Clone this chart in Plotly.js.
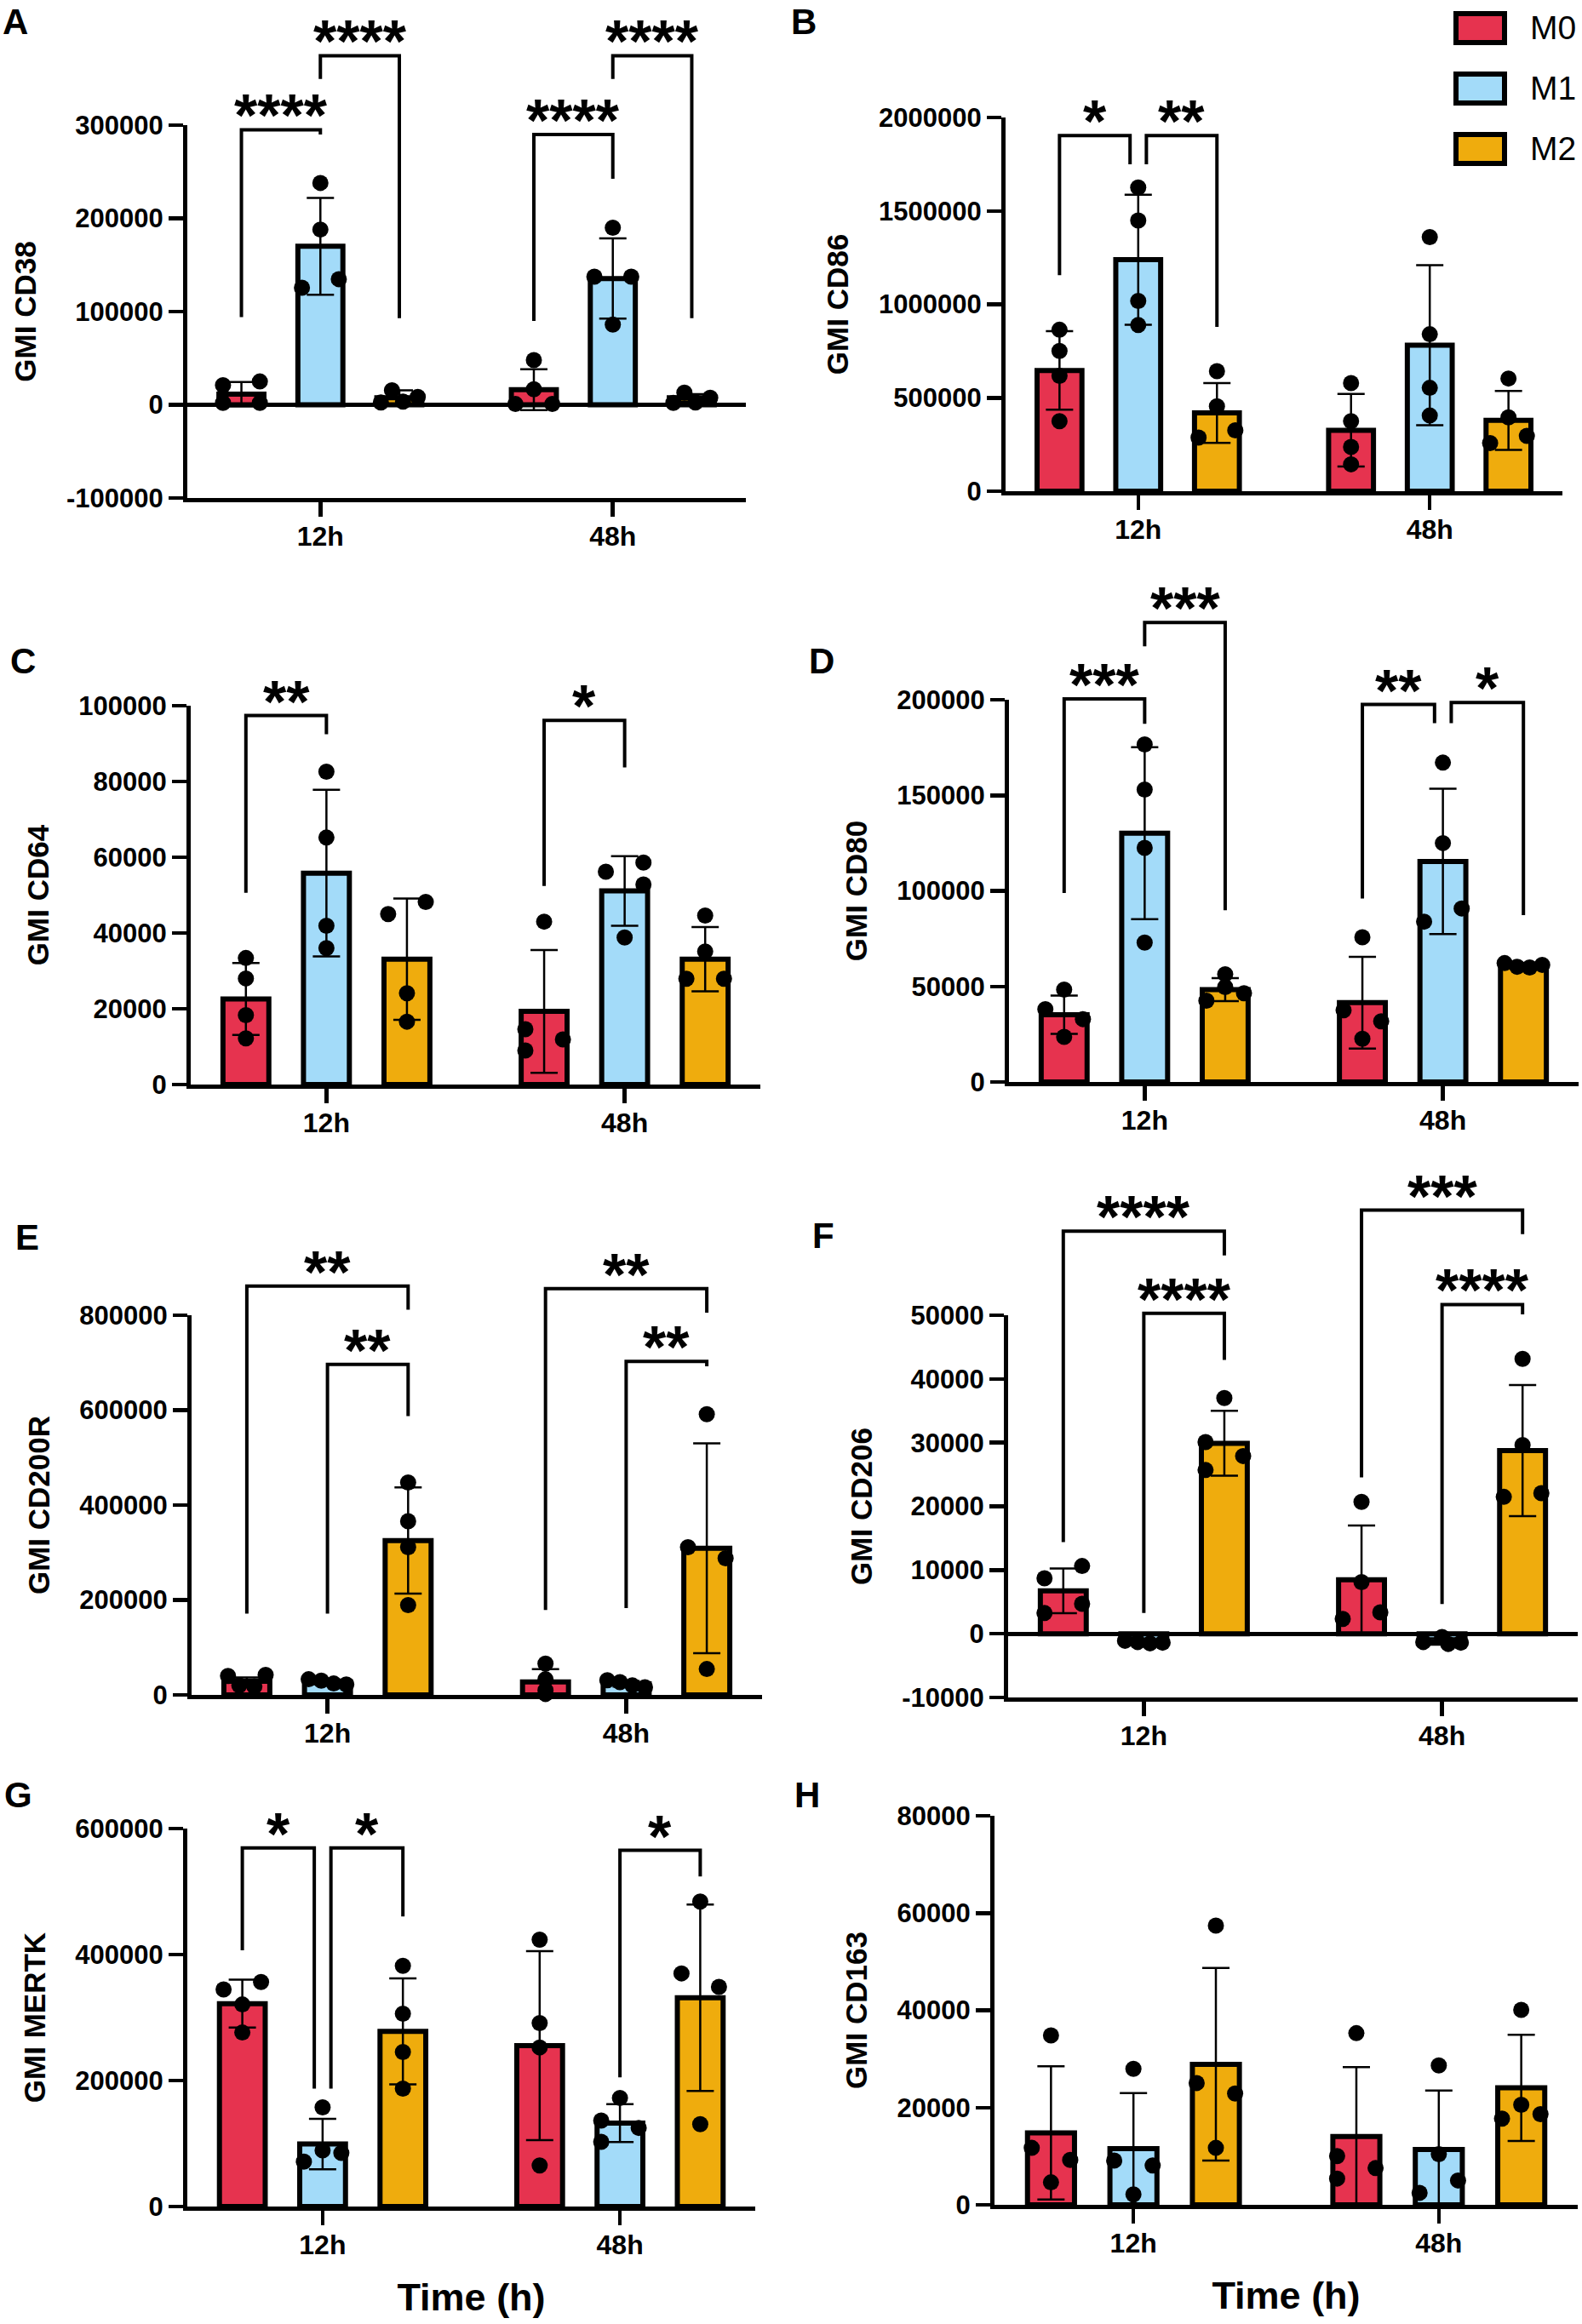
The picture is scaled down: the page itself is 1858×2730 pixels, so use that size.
<!DOCTYPE html>
<html>
<head>
<meta charset="utf-8">
<script src="https://cdn.plot.ly/plotly-3.0.1.min.js"></script>
<style>
  html, body { margin: 0; padding: 0; background: #fff; }
  #fig { width: 1858px; height: 2730px; }
</style>
</head>
<body>
<div id="fig"></div>
<script>
// categories
const timePoints = ['12h', '48h'];
const groups = ['M0', 'M1', 'M2'];
const panelLetters = ['A', 'B', 'C', 'D', 'E', 'F', 'G', 'H'];
const markerNames = ['GMI CD38', 'GMI CD86', 'GMI CD64', 'GMI CD80', 'GMI CD200R', 'GMI CD206', 'GMI MERTK', 'GMI CD163'];

// y tick values per panel
const ticksCD38 = [-100000, 0, 100000, 200000, 300000];
const ticksCD86 = [0, 500000, 1000000, 1500000, 2000000];
const ticksCD64 = [0, 20000, 40000, 60000, 80000, 100000];
const ticksCD80 = [0, 50000, 100000, 150000, 200000];
const ticksCD200R = [0, 200000, 400000, 600000, 800000];
const ticksCD206 = [-10000, 0, 10000, 20000, 30000, 40000, 50000];
const ticksMERTK = [0, 200000, 400000, 600000];
const ticksCD163 = [0, 20000, 40000, 60000, 80000];

// rows = M0, M1, M2 ; columns = 12h, 48h
const meanCD38 = [[11500, 16200], [170000, 135500], [7500, 7500]];
const sdCD38 = [[13000, 22000], [52000, 43000], [8000, 4000]];
const ptsCD38 = [
  [[21000, 25000, 2000, 2000], [48000, 16600, 800, 800]],
  [[238000, 188000, 125600, 134800], [190000, 137500, 137500, 86000]],
  [[15500, 2500, 3500, 8500], [13000, 2000, 2500, 7500]]
];
const meanCD86 = [[646000, 326000], [1239000, 781000], [419000, 379000]];
const sdCD86 = [[210000, 194000], [348000, 428000], [160000, 158000]];
const ptsCD86 = [
  [[864000, 751000, 617000, 375000], [579000, 375000, 237000, 144000]],
  [[1625000, 1449000, 1018000, 889000], [1360000, 840000, 553000, 405000]],
  [[642000, 455000, 287000, 326000], [603000, 395000, 257000, 296000]]
];
const meanCD64 = [[22600, 19300], [55800, 51100], [33100, 33100]];
const sdCD64 = [[9500, 16200], [22000, 9200], [16000, 8500]];
const ptsCD64 = [
  [[33400, 28000, 18300, 12200], [43000, 14600, 11900, 9000]],
  [[82600, 65200, 41900, 36000], [56200, 58600, 52800, 38800]],
  [[45000, 48200, 24100, 16600], [44600, 35100, 27900, 27900]]
];
const meanCD80 = [[35200, 41500], [130200, 115400], [48300, 60700]];
const sdCD80 = [[10000, 24000], [45000, 38000], [6000, 1500]];
const ptsCD80 = [
  [[48300, 38100, 32900, 23600], [75700, 37500, 31700, 22600]],
  [[176600, 153000, 122500, 72900], [167100, 125000, 83900, 90800]],
  [[56400, 49700, 42500, 46400], [62200, 60300, 59900, 61300]]
];
const meanCD200R = [[28800, 27200], [27200, 23300], [325300, 309000]];
const sdCD200R = [[8000, 27000], [5000, 6000], [112000, 221000]];
const ptsCD200R = [
  [[40000, 42000, 20000, 18000], [66000, 33000, 10000, 2000]],
  [[33000, 30000, 24000, 22000], [31000, 27000, 20000, 16000]],
  [[447500, 365800, 311300, 189100], [591400, 311300, 287900, 54500]]
];
const meanCD206 = [[6740, 8480], [-1300, -1200], [29900, 28750]];
const sdCD206 = [[3500, 8500], [300, 500], [5100, 10300]];
const ptsCD206 = [
  [[8710, 10630, 4700, 3250], [20700, 8100, 2320, 3370]],
  [[-1100, -1300, -1500, -1400], [-500, -1300, -1600, -1400]],
  [[37000, 30100, 27900, 25700], [43150, 29620, 21490, 22070]]
];
const meanMERTK = [[322000, 255400], [99200, 132500], [278000, 331500]];
const sdMERTK = [[38000, 150000], [40000, 30000], [84000, 148000]];
const ptsMERTK = [
  [[344600, 356400, 320800, 276200], [423600, 291100, 252500, 65300]],
  [[157400, 71300, 89100, 85000], [172300, 136600, 124800, 102800]],
  [[382000, 306000, 245300, 187100], [484200, 370100, 348700, 130700]]
];
const meanCD163 = [[14800, 14030], [11560, 11400], [28900, 24050]];
const sdCD163 = [[13700, 14300], [11400, 12100], [19800, 10900]];
const ptsCD163 = [
  [[34840, 11710, 9250, 4620], [35300, 10020, 7550, 5400]],
  [[27980, 9090, 8090, 2160], [28670, 10400, 5010, 2470]],
  [[57420, 25050, 22890, 11710], [40080, 20580, 17730, 18650]]
];

// significance brackets: [time index, from group, to group, bar height, left leg end, right leg end, label, left nudge, right nudge]
const sigCD38 = [[0, 0, 1, 295000, 94000, 290000, '****'], [0, 1, 2, 374500, 349500, 93000, '****'],
                 [1, 0, 1, 290000, 90000, 242500, '****'], [1, 1, 2, 374500, 349500, 93000, '****']];
const sigCD86 = [[0, 0, 1, 1903000, 1156000, 1749000, '*', 0, -1], [0, 1, 2, 1903000, 1749000, 879000, '**', 1, 0]];
const sigCD64 = [[0, 0, 1, 97400, 50600, 92500, '**'], [1, 0, 1, 96100, 52400, 83700, '*']];
const sigCD80 = [[0, 0, 1, 200400, 98900, 187400, '***'], [0, 1, 2, 240400, 228000, 89900, '***'],
                 [1, 0, 1, 197500, 96000, 187800, '**', 0, -1], [1, 1, 2, 198500, 187800, 87300, '*', 1, 0]];
const sigCD200R = [[0, 0, 2, 861500, 171200, 811700, '**'], [0, 1, 2, 696500, 171200, 587500, '**'],
                   [1, 0, 2, 856000, 179000, 805400, '**'], [1, 1, 2, 702700, 182900, 692600, '**']];
const sigCD206 = [[0, 0, 2, 63190, 14400, 59400, '****'], [0, 1, 2, 50290, 3250, 42980, '****'],
                  [1, 0, 2, 66490, 24560, 62720, '***'], [1, 1, 2, 51680, 4650, 50120, '****']];
const sigMERTK = [[0, 0, 1, 569100, 406900, 187100, '*', 0, -1], [0, 1, 2, 569100, 187100, 460400, '*', 1, 0],
                  [1, 1, 2, 565500, 205000, 523900, '*']];
const sigCD163 = [];

// horizontal spread of the dots (left -1 .. right 1), same shape as the points
const jitCD38 = [[[-1, 1, -1, 1], [0, 0, -1, 1]], [[0, 0, -1, 1], [0, -1, 1, 0]], [[-0.4, -1, 0.2, 1], [-0.4, -1, 0.2, 1]]];
const jitCD86 = [[[0, 0, 0, 0], [0, 0, 0, 0]], [[0, 0, 0, 0], [0, 0, 0, 0]], [[0, 0, -1, 1], [0, 0, -1, 1]]];
const jitCD64 = [[[0, 0, 0, 0], [0, -1, 1, -1]], [[0, 0, 0, 0], [-1, 1, 1, 0]], [[-1, 1, 0, 0], [0, 0, -1, 1]]];
const jitCD80 = [[[0, -1, 1, 0], [0, -1, 1, 0]], [[0, 0, 0, 0], [0, 0, -1, 1]], [[0, 0, -1, 1], [-1, -0.33, 0.33, 1]]];
const jitCD200R = [[[-1, 1, -0.4, 0.4], [0, 0, 0, 0]], [[-1, -0.33, 0.33, 1], [-1, -0.33, 0.33, 1]], [[0, 0, 0, 0], [0, -1, 1, 0]]];
const jitCD206 = [[[-1, 1, 1, -1], [0, 0, -1, 1]], [[-1, -0.33, 0.33, 1], [0, -1, 0.33, 1]], [[0, -1, 1, -1], [0, 0, -1, 1]]];
const jitMERTK = [[[-1, 1, 0, 0], [0, 0, 0, 0]], [[0, -1, 0, 1], [0, -1, 1, -1]], [[0, 0, 0, 0], [0, -1, 1, 0]]];
const jitCD163 = [[[0, -1, 1, 0], [0, -1, 1, -1]], [[0, -1, 1, 0], [0, 0, 1, -1]], [[0, -1, 1, 0], [0, 0, -1, 1]]];

// ---- layout constants ----
const W = 1858, H = 2730;
const BARGAP = 0.19, BARGROUPGAP = 0.43;
const SLOT = (1 - BARGAP) / groups.length;
const JIT = 0.063;
const NUDGE = 0.028;
const XRANGE = [-0.455, 1.455];
const colors = ['#E6334F', '#A3DBF9', '#EFAC0D'];
const FONT = 'Liberation Sans, Arial, sans-serif';
// pixel boxes: [axis left, axis right, top tick, bottom, top of panel]
const boxes = [
  [220, 876, 147, 585, 0], [1181, 1835, 138, 577, 0],
  [224, 893, 829, 1274, 680], [1185, 1854, 822, 1271, 680],
  [225, 895, 1545, 1991, 1360], [1184, 1853, 1545, 1994, 1360],
  [220, 887, 2148, 2592, 2040], [1168, 1853, 2133, 2590, 2040]
];
const letterPos = [[18, 26], [944, 26], [27, 776], [965, 776], [32, 1453], [967, 1451], [21, 2108], [948, 2108]];
const legendRows = [33, 104, 175];

const panels = [
  {ticks: ticksCD38, mean: meanCD38, sd: sdCD38, pts: ptsCD38, jit: jitCD38, sig: sigCD38},
  {ticks: ticksCD86, mean: meanCD86, sd: sdCD86, pts: ptsCD86, jit: jitCD86, sig: sigCD86},
  {ticks: ticksCD64, mean: meanCD64, sd: sdCD64, pts: ptsCD64, jit: jitCD64, sig: sigCD64},
  {ticks: ticksCD80, mean: meanCD80, sd: sdCD80, pts: ptsCD80, jit: jitCD80, sig: sigCD80},
  {ticks: ticksCD200R, mean: meanCD200R, sd: sdCD200R, pts: ptsCD200R, jit: jitCD200R, sig: sigCD200R},
  {ticks: ticksCD206, mean: meanCD206, sd: sdCD206, pts: ptsCD206, jit: jitCD206, sig: sigCD206},
  {ticks: ticksMERTK, mean: meanMERTK, sd: sdMERTK, pts: ptsMERTK, jit: jitMERTK, sig: sigMERTK},
  {ticks: ticksCD163, mean: meanCD163, sd: sdCD163, pts: ptsCD163, jit: jitCD163, sig: sigCD163}
];

const traces = [];
const shapes = [];
const annotations = [];
const layout = {
  width: W, height: H,
  margin: {l: 0, r: 0, t: 0, b: 0},
  paper_bgcolor: '#ffffff',
  plot_bgcolor: 'rgba(0,0,0,0)',
  showlegend: false,
  barmode: 'group',
  bargap: BARGAP,
  bargroupgap: BARGROUPGAP,
  font: {family: FONT, color: '#000'},
  shapes: shapes,
  annotations: annotations
};

panels.forEach((p, i) => {
  const n = i + 1, m = i + 9;
  const xa = 'x' + n, ya = 'y' + n, yb = 'y' + m;
  const [L, R, T, B, PT] = boxes[i];
  const r0 = p.ticks[0], r1 = p.ticks[p.ticks.length - 1];
  const r1b = r0 + (r1 - r0) * (B - PT) / (B - T);

  const xaxis = {
    domain: [L / W, R / W], anchor: ya, range: XRANGE, fixedrange: true,
    tickmode: 'array', tickvals: [0, 1], ticktext: timePoints,
    showline: true, linewidth: 5, linecolor: '#000',
    ticks: 'outside', ticklen: 17, tickwidth: 4.5, tickcolor: '#000',
    ticklabelstandoff: -4,
    showgrid: false, zeroline: false,
    tickfont: {family: FONT, size: 32, weight: 700, color: '#000'}
  };
  if (i >= 6) {
    xaxis.title = {text: 'Time (h)', standoff: 30, font: {family: FONT, size: 45, weight: 700, color: '#000'}};
  }
  layout['xaxis' + n] = xaxis;

  layout['yaxis' + n] = {
    domain: [1 - B / H, 1 - T / H], anchor: xa, range: [r0, r1], fixedrange: true,
    tickmode: 'array', tickvals: p.ticks, ticktext: p.ticks.map(String),
    showline: true, linewidth: 5, linecolor: '#000',
    ticks: 'outside', ticklen: 17, tickwidth: 4.5, tickcolor: '#000',
    showgrid: false, zeroline: r0 < 0, zerolinewidth: 5, zerolinecolor: '#000',
    tickfont: {family: FONT, size: 31, weight: 700, color: '#000'},
    title: {text: markerNames[i], standoff: 26, font: {family: FONT, size: 35, weight: 700, color: '#000'}}
  };
  // taller invisible axis with the same scale, for the brackets above the plot
  layout['yaxis' + m] = {
    domain: [1 - B / H, 1 - PT / H], anchor: xa, range: [r0, r1b],
    visible: false, fixedrange: true, showgrid: false, zeroline: false
  };

  groups.forEach((g, s) => {
    traces.push({
      type: 'bar', name: g, x: [0, 1], y: p.mean[s], xaxis: xa, yaxis: ya,
      marker: {color: colors[s], line: {color: '#000', width: 6}},
      error_y: {type: 'data', array: p.sd[s], visible: true, color: '#000', thickness: 2.5, width: 16},
      hoverinfo: 'skip', showlegend: false
    });
  });
  groups.forEach((g, s) => {
    const xs = [], ys = [];
    p.pts[s].forEach((vals, t) => vals.forEach((v, k) => {
      xs.push(t + (s - 1) * SLOT + p.jit[s][t][k] * JIT);
      ys.push(v);
    }));
    traces.push({
      type: 'scatter', mode: 'markers', x: xs, y: ys, xaxis: xa, yaxis: ya,
      marker: {color: '#000', size: 19}, cliponaxis: false,
      hoverinfo: 'skip', showlegend: false
    });
  });

  p.sig.forEach(([t, a, b, y, la, lb, label, na, nb]) => {
    const x0 = t + (a - 1) * SLOT + (na || 0) * NUDGE;
    const x1 = t + (b - 1) * SLOT + (nb || 0) * NUDGE;
    traces.push({
      type: 'scatter', mode: 'lines', x: [x0, x0, x1, x1], y: [la, y, y, lb],
      xaxis: xa, yaxis: yb, line: {color: '#000', width: 4},
      hoverinfo: 'skip', showlegend: false
    });
    annotations.push({
      xref: xa, yref: yb, x: (x0 + x1) / 2, y: y, text: label, showarrow: false,
      xanchor: 'center', yanchor: 'middle', yshift: 16,
      font: {family: FONT, size: 70, weight: 700, color: '#000'}
    });
  });

  annotations.push({
    xref: 'paper', yref: 'paper', x: letterPos[i][0] / W, y: 1 - letterPos[i][1] / H,
    text: panelLetters[i], showarrow: false, xanchor: 'center', yanchor: 'middle',
    font: {family: FONT, size: 42, weight: 700, color: '#000'}
  });
});

// legend drawn next to panel B
groups.forEach((g, s) => {
  const cy = legendRows[s];
  shapes.push({
    type: 'rect', xref: 'paper', yref: 'paper',
    x0: 1710 / W, x1: 1767 / W, y0: 1 - (cy + 17) / H, y1: 1 - (cy - 17) / H,
    fillcolor: colors[s], line: {color: '#000', width: 6}
  });
  annotations.push({
    xref: 'paper', yref: 'paper', x: 1795 / W, y: 1 - cy / H, text: g, showarrow: false,
    xanchor: 'left', yanchor: 'middle',
    font: {family: FONT, size: 39, color: '#000'}
  });
});

Plotly.newPlot(document.getElementById('fig'), traces, layout, {displayModeBar: false, staticPlot: true});
</script>
</body>
</html>
